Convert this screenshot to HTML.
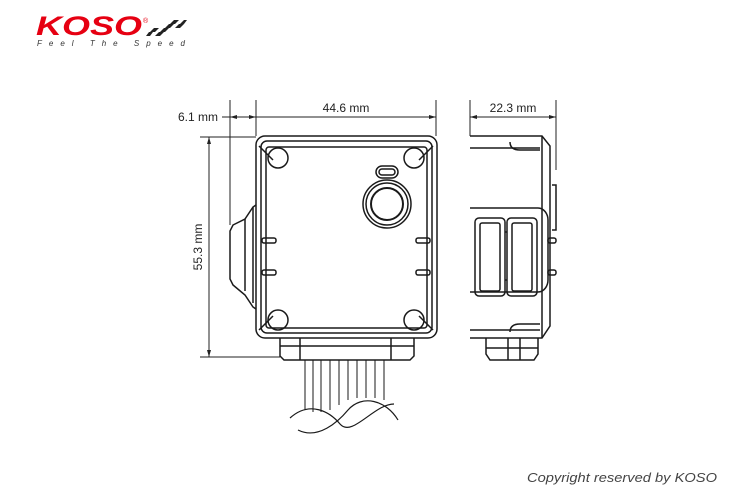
<!DOCTYPE html>
<html><head><style>
body{margin:0;background:#fff;}
svg{display:block;font-family:"Liberation Sans",sans-serif;}
</style></head><body>
<svg width="740" height="500" viewBox="0 0 740 500" xmlns="http://www.w3.org/2000/svg">
<rect width="740" height="500" fill="#fff"/>
<!-- logo -->
<text x="36" y="35" font-size="27" font-weight="bold" font-style="italic" fill="#e60012" textLength="106" lengthAdjust="spacingAndGlyphs">KOSO</text>
<text x="143" y="23" font-size="7" fill="#e60012">®</text>
<g fill="#222">
<path d="M150 32 l4 -4 h5 l-4 4z M160 32 l4 -4 h5 l-4 4z M155 36 l4 -4 h5 l-4 4z M165 28 l4 -4 h5 l-4 4z M170 24 l4 -4 h5 l-4 4z M175 28 l4 -4 h5 l-4 4z M180 24 l4 -4 h3 l-3 4z M146 36 l3 -4 h4 l-3 4z"/>
</g>
<text x="37" y="46" font-size="8" font-style="italic" fill="#333" textLength="148" lengthAdjust="spacing">Feel The Speed</text>

<g stroke="#222" fill="none" stroke-width="1">
<line x1="230" y1="100" x2="230" y2="225"/>
<line x1="256" y1="100" x2="256" y2="136"/>
<line x1="436" y1="100" x2="436" y2="136"/>
<line x1="222" y1="117" x2="436" y2="117"/>
<line x1="200" y1="137" x2="256" y2="137"/>
<line x1="200" y1="357" x2="280" y2="357"/>
<line x1="209" y1="137" x2="209" y2="357"/>
<line x1="470" y1="100" x2="470" y2="136"/>
<line x1="556" y1="100" x2="556" y2="170"/>
<line x1="470" y1="117" x2="556" y2="117"/>
</g>
<g fill="#222">
<path d="M256 117 l-7 -2 v4z M230 117 l7 -2 v4z M436 117 l-7 -2 v4z M470 117 l7 -2 v4z M556 117 l-7 -2 v4z M209 137 l-2 7 h4z M209 357 l-2 -7 h4z"/>
</g>
<g font-size="12" fill="#222">
<text x="178" y="121">6.1 mm</text>
<text x="346" y="112" text-anchor="middle">44.6 mm</text>
<text x="513" y="112" text-anchor="middle">22.3 mm</text>
<text transform="translate(202,247) rotate(-90)" text-anchor="middle">55.3 mm</text>
</g>

<!-- front view -->
<g stroke="#1a1a1a" fill="none" stroke-width="1.5">
<rect x="256" y="136" width="181" height="202" rx="9"/>
<rect x="261" y="141" width="171" height="192" rx="6"/>
<rect x="266" y="147" width="161" height="181" rx="3"/>
<path d="M256 205 l-3 2 -8 12 -12 6 -3 6 v48 l3 6 12 10 8 12 3 2"/>
<path d="M245 219 v72 M253 207 v96"/>
<circle cx="278" cy="158" r="10"/><circle cx="414" cy="158" r="10"/>
<circle cx="278" cy="320" r="10"/><circle cx="414" cy="320" r="10"/>
<path d="M259 146 l14 14 M433 146 l-14 14 M259 330 l14 -14 M433 330 l-14 -14"/>
<circle cx="387" cy="204" r="24"/><circle cx="387" cy="204" r="21"/><circle cx="387" cy="204" r="16" stroke-width="2"/>
<rect x="376" y="166" width="22" height="12" rx="6"/><rect x="379" y="169" width="16" height="6" rx="3"/>
<rect x="262" y="238" width="14" height="5" rx="2"/><rect x="262" y="270" width="14" height="5" rx="2"/>
<rect x="416" y="238" width="14" height="5" rx="2"/><rect x="416" y="270" width="14" height="5" rx="2"/>
<path d="M280 338 v18 l4 4 h126 l4 -4 v-18 M280 346 h134 M300 338 v22 M391 338 v22"/>
<path d="M305 360 v50 M313 360 v52 M321 360 v52 M330 360 v50 M339 360 v45 M348 360 v40 M357 360 v38 M366 360 v38 M375 360 v38 M384 360 v40" stroke-width="1"/>
<path d="M290 418 c20 -18 40 -6 50 6 c12 14 34 -20 54 -20" stroke-width="1.2"/>
<path d="M298 430 c20 10 40 -8 50 -20 c14 -16 38 -10 50 10" stroke-width="1.2"/>
</g>

<!-- side view -->
<g stroke="#1a1a1a" fill="none" stroke-width="1.5">
<path d="M470 136 h72 l8 10 v180 l-8 12 h-72"/>
<path d="M470 148 h70 M470 330 h70 M542 136 v202"/>
<path d="M510 142 c0 6 4 8 10 8 h20 M510 332 c0 -6 4 -8 10 -8 h20"/>
<path d="M552 185 h4 v45 h-4"/>
<path d="M470 208 h68 c6 0 10 6 10 12 v60 c0 6 -4 12 -10 12 h-68"/>
<rect x="475" y="218" width="30" height="78" rx="4"/><rect x="480" y="223" width="20" height="68" rx="2"/>
<rect x="507" y="218" width="30" height="78" rx="4"/><rect x="512" y="223" width="20" height="68" rx="2"/>
<path d="M505 232 h2 M505 280 h2"/>
<rect x="548" y="238" width="8" height="5" rx="2"/><rect x="548" y="270" width="8" height="5" rx="2"/>
<path d="M486 338 v16 l4 6 h44 l4 -6 v-16 M508 338 v22 M520 338 v22 M486 348 h52"/>
</g>

<text x="527" y="482" font-size="13" font-style="italic" fill="#444" textLength="190" lengthAdjust="spacingAndGlyphs">Copyright reserved by KOSO</text>
</svg>
</body></html>
